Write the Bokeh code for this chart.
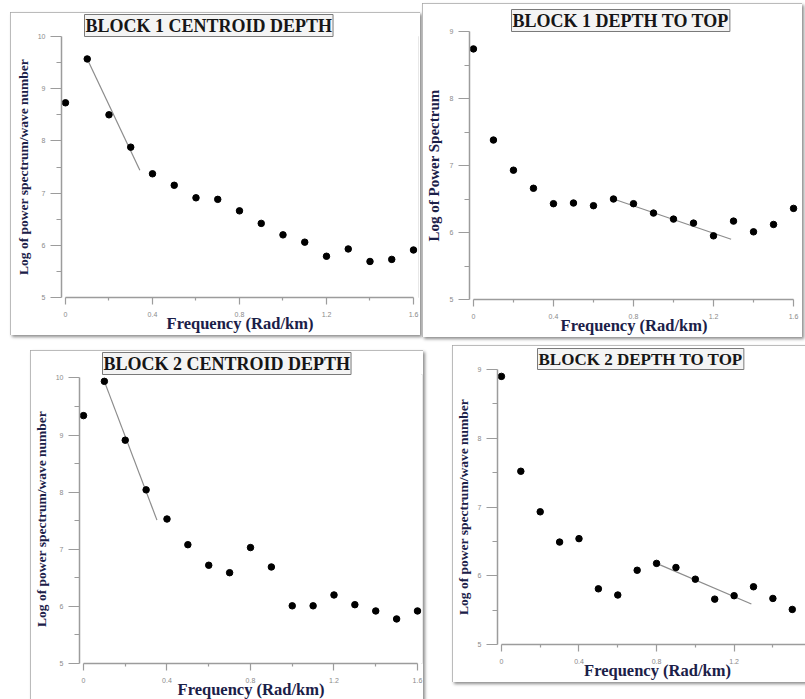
from bokeh.plotting import figure
from bokeh.models import FixedTicker, Range1d, Spacer, Title
from bokeh.layouts import row, column
from bokeh.embed import file_html
from bokeh.resources import INLINE

# ---------------- data ----------------
freq = [0.0, 0.1, 0.2, 0.3, 0.4, 0.5, 0.6, 0.7, 0.8, 0.9, 1.0, 1.1, 1.2, 1.3, 1.4, 1.5, 1.6]

b1_centroid = [8.73, 9.57, 8.50, 7.88, 7.37, 7.15, 6.91, 6.88, 6.66, 6.42, 6.20, 6.06, 5.79, 5.93, 5.69, 5.73, 5.91]
b1_top = [8.74, 7.38, 6.93, 6.66, 6.43, 6.44, 6.40, 6.50, 6.43, 6.29, 6.20, 6.14, 5.95, 6.17, 6.01, 6.12, 6.36]
b2_centroid = [9.34, 9.94, 8.91, 8.04, 7.53, 7.08, 6.72, 6.59, 7.03, 6.69, 6.01, 6.01, 6.20, 6.03, 5.92, 5.78, 5.92]
b2_top = [8.90, 7.52, 6.93, 6.49, 6.54, 5.81, 5.72, 6.08, 6.18, 6.12, 5.95, 5.66, 5.71, 5.84, 5.67, 5.51, 5.72]

b1_centroid_fit_x = [0.1, 0.342]
b1_centroid_fit_y = [9.57, 7.44]
b1_top_fit_x = [0.7, 1.288]
b1_top_fit_y = [6.50, 5.90]
b2_centroid_fit_x = [0.1, 0.352]
b2_centroid_fit_y = [9.94, 7.51]
b2_top_fit_x = [0.8, 1.289]
b2_top_fit_y = [6.18, 5.59]

x_major = [0, 0.4, 0.8, 1.2, 1.6]
x_major_cut = [0, 0.4, 0.8, 1.2]
x_minor = [0.2, 0.6, 1.0, 1.4]
y_major_10 = [5, 6, 7, 8, 9, 10]
y_minor_10 = [5.5, 6.5, 7.5, 8.5, 9.5]
y_major_9 = [5, 6, 7, 8, 9]
y_minor_9 = [5.5, 6.5, 7.5, 8.5]

titles = ["BLOCK 1 CENTROID DEPTH", "BLOCK 1 DEPTH TO TOP",
          "BLOCK 2 CENTROID DEPTH", "BLOCK 2 DEPTH TO TOP"]
xlabel = "Frequency (Rad/km)"
ylabel_wave = "Log of power spectrum/wave number"
ylabel_power = "Log of Power Spectrum"

# ---------------- style ----------------
SERIF = "Liberation Serif"
SANS = "Liberation Sans"
LABEL_COLOR = "#1b2048"
AXIS_GREY = "#9c9c9c"
FRAME_STYLE = {"outline": "2px solid #a4a4a4", "outline-offset": "-2px",
               "box-shadow": "2px 2px 3px rgba(0,0,0,0.45)"}


def make_panel(title, ylabel, xs, ys, fx, fy, width, height, xr, yr, ybnd, xmaj,
               ymaj, ymin, mb, t_off, t_size, yl_size, yl_stand):
    p = figure(width=width, height=height, x_range=Range1d(*xr), y_range=Range1d(*yr),
               output_backend="svg", toolbar_location=None,
               min_border_left=mb[0], min_border_right=mb[1],
               min_border_top=mb[2], min_border_bottom=mb[3],
               background_fill_color="white", border_fill_color="white",
               outline_line_color=None, styles=FRAME_STYLE)
    p.title = Title(text=title, align="left", offset=t_off, standoff=0,
                    text_font=SERIF, text_font_style="bold", text_font_size=t_size,
                    text_color="#161616", background_fill_color="#f4f4f4",
                    border_line_color="#7a7a7a", border_line_width=1, padding=1)
    p.xgrid.visible = False
    p.ygrid.visible = False

    for ax in (p.xaxis[0], p.yaxis[0]):
        ax.axis_line_color = AXIS_GREY
        ax.axis_line_width = 1.5
        ax.major_tick_line_color = AXIS_GREY
        ax.minor_tick_line_color = AXIS_GREY
        ax.major_tick_line_width = 1.2
        ax.minor_tick_line_width = 1.2
        ax.major_tick_in = 0
        ax.minor_tick_in = 0
        ax.major_label_text_font = SANS
        ax.major_label_text_font_size = "7px"
        ax.major_label_text_color = "#8a8a8a"
        ax.axis_label_text_font = SERIF
        ax.axis_label_text_font_style = "bold"
        ax.axis_label_text_color = LABEL_COLOR

    xa = p.xaxis[0]
    xa.ticker = FixedTicker(ticks=xmaj, minor_ticks=x_minor)
    xa.bounds = (0, 1.6)
    xa.major_tick_out = 7
    xa.minor_tick_out = 3
    xa.major_label_standoff = 7
    xa.axis_label = xlabel
    xa.axis_label_text_font_size = "16.5px"
    xa.axis_label_standoff = -6

    ya = p.yaxis[0]
    ya.ticker = FixedTicker(ticks=ymaj, minor_ticks=ymin)
    ya.bounds = ybnd
    ya.major_tick_out = 11
    ya.minor_tick_out = 5
    ya.major_label_standoff = 5
    ya.axis_label = ylabel
    ya.axis_label_text_font_size = yl_size
    ya.axis_label_standoff = yl_stand

    p.line(fx, fy, line_color="#8c8c8c", line_width=1.2)
    p.scatter(xs, ys, size=6.5, color="black")
    return p


p1 = make_panel(titles[0], ylabel_wave, freq, b1_centroid, b1_centroid_fit_x, b1_centroid_fit_y,
                410, 323, (-0.0183, 1.623), (5, 10), (5, 10), x_major, y_major_10, y_minor_10,
                (51, 2, 23, 36), 23, "18px", "13.5px", 4)
p2 = make_panel(titles[1], ylabel_power, freq, b1_top, b1_top_fit_x, b1_top_fit_y,
                380, 334, (-0.0197, 1.6248), (5, 9), (5, 9), x_major, y_major_9, y_minor_9,
                (44, 4, 28, 36), 42, "18px", "15px", 5)
p3 = make_panel(titles[2], ylabel_wave, freq, b2_centroid, b2_centroid_fit_x, b2_centroid_fit_y,
                393, 351, (-0.0191, 1.624), (5, 10.06), (5, 10), x_major, y_major_10, y_minor_10,
                (48, 1, 23, 38), 23, "18px", "13.5px", 4)
p4 = make_panel(titles[3], ylabel_wave, freq, b2_top, b2_top_fit_x, b2_top_fit_y,
                368, 337, (-0.0203, 1.630), (5, 9), (5, 9), x_major_cut, y_major_9, y_minor_9,
                (40, 3, 24, 38), 40, "17px", "13.5px", 4)

row1 = row(Spacer(width=10, height=337),
           column(Spacer(width=410, height=12), p1),
           Spacer(width=2, height=337),
           column(Spacer(width=380, height=3), p2))
row2 = row(Spacer(width=30, height=10),
           column(Spacer(width=393, height=13), p3),
           Spacer(width=29, height=10),
           column(Spacer(width=368, height=8), p4))
root = column(row1, row2, width=805, height=699, styles={"overflow": "hidden"})

open("out.html", "w").write(file_html(root, INLINE))
